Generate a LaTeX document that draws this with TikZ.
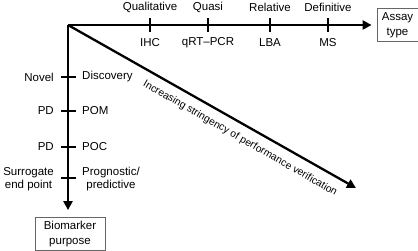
\documentclass[tikz,border=0pt]{standalone}
\usepackage{fontspec}
\setmainfont{Liberation Sans}
\usetikzlibrary{arrows.meta}
\begin{document}
\begin{tikzpicture}[x=1pt,y=-1pt,
  axis/.style={line width=2.3pt,-{Triangle[length=9pt,width=9pt]}},
  tick/.style={line width=2.3pt},
  lbl/.style={font=\fontsize{11.5}{13}\selectfont,inner sep=0pt,align=center},
  diag/.style={font=\fontsize{10.3}{12}\selectfont,inner sep=0pt},
  boxed/.style={draw=black!60,line width=0.8pt,font=\fontsize{11.5}{14.5}\selectfont,align=center,inner sep=0pt}]
\useasboundingbox (0,0) rectangle (418,251);
\coordinate (o) at (68,25);
\node[boxed,minimum width=41pt,minimum height=33pt] (assay) at (397.5,25) {Assay\\type};
\node[boxed,minimum width=70pt,minimum height=33pt] (bio) at (70,234) {Biomarker\\purpose};
\coordinate (dend) at (356,188);
% axes
\draw[axis,shorten >=5pt] (o) -- (assay.west);
\draw[axis,shorten >=7pt] (o) -- (bio.north -| o);
\draw[axis] (o) -- (dend);
\node[diag,rotate=-29.8] (dlabel) at (240,138.5) {Increasing stringency of performance verification};
% horizontal ticks
\foreach \x/\top/\bot [count=\i] in {150/Qualitative/IHC,208/Quasi/qRT–PCR,270/Relative/LBA,328/Definitive/MS}{
  \coordinate (h\i) at (\x,25);
  \draw[tick] ([yshift=-7pt]h\i) -- ([yshift=7pt]h\i);
  \node[lbl] (ht\i) at (\x,7) {\top};
  \node[lbl] (hb\i) at (\x,43) {\bot};
}
% vertical ticks
\foreach \y [count=\i] in {77,111,147,178}{
  \coordinate (v\i) at (68,\y);
  \draw[tick] ([xshift=-7pt]v\i) -- ([xshift=8pt]v\i);
}
\node[lbl,anchor=east] (vl1) at (54,77) {Novel};
\node[lbl,anchor=west] (vr1) at (82,77) {Discovery};
\node[lbl,anchor=east] (vl2) at (54,111) {PD};
\node[lbl,anchor=west] (vr2) at (82,111) {POM};
\node[lbl,anchor=east] (vl3) at (54,147) {PD};
\node[lbl,anchor=west] (vr3) at (82,147) {POC};
\node[lbl,anchor=east] (vl4) at (54,179.5) {Surrogate\\end point};
\node[lbl,anchor=west] (vr4) at (82,179.5) {Prognostic/\\predictive};
\end{tikzpicture}
\end{document}
